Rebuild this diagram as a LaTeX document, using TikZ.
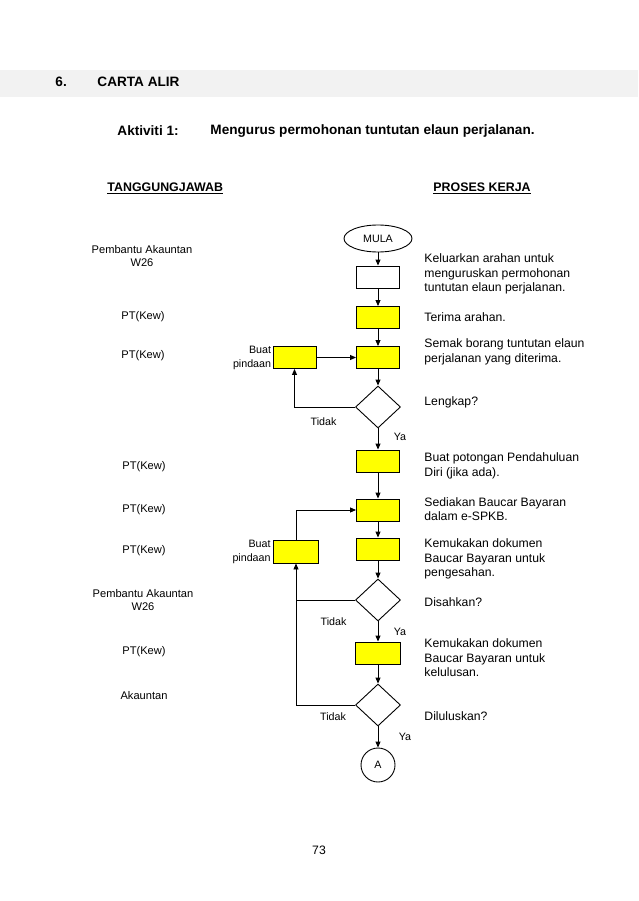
\documentclass[tikz,border=0pt]{standalone}
\usepackage{fontspec}
\setmainfont{Liberation Sans}
\usetikzlibrary{arrows.meta,positioning,shapes.geometric}
\definecolor{FlowYellow}{HTML}{FFFF00}
\definecolor{BarGrey}{HTML}{F2F2F2}
\tikzset{>={Triangle[length=6pt,width=5pt]},
 proc/.style={draw,fill=FlowYellow,minimum width=43pt,minimum height=22pt,inner sep=0pt},
 decide/.style={diamond,draw,minimum width=45pt,minimum height=42pt,inner sep=0pt},
 role/.style={font=\fontsize{11.1}{13}\selectfont,align=center},
 work/.style={anchor=west,align=left,inner sep=0pt,font=\fontsize{12.2}{14.4}\selectfont},
 tag/.style={font=\fontsize{10.7}{14}\selectfont,inner sep=1pt},
 head/.style={anchor=west,inner sep=0pt,font=\fontsize{13.6}{16}\selectfont\bfseries},
 colhead/.style={anchor=west,inner sep=0pt,font=\fontsize{12.4}{15}\selectfont\bfseries}}
\begin{document}
\begin{tikzpicture}[x=1pt,y=-1pt,line width=0.9pt]
\useasboundingbox (0,0) rectangle (638,901);
\fill[BarGrey] (0,70) rectangle (638,97);
\node[head] (num) at (55,82) {6.};
\node[head] (title) at (97,82) {CARTA ALIR};
\node[head] (akt) at (117,131) {Aktiviti 1:};
\node[head] (aktname) at (210,131) {Mengurus permohonan tuntutan elaun perjalanan.};
\node[colhead] (hleft) at (107,188) {\underline{TANGGUNGJAWAB}};
\node[colhead] (hright) at (433,188) {\underline{PROSES KERJA}};

\node[ellipse,draw,minimum width=68pt,minimum height=27pt,inner sep=0pt,tag] (mula) at (378,238.5) {MULA};
\node[proc,fill=white] (b1) at (378,277) {};
\node[proc] (b2) at (378,317.5) {};
\node[proc] (b3) at (378,357.5) {};
\node[proc] (p1) at (294.5,357.5) {};
\node[decide] (d1) at (378,407) {};
\node[proc] (b4) at (378,461) {};
\node[proc] (b5) at (378,510) {};
\node[proc] (b6) at (378,549) {};
\node[proc,minimum width=45pt,minimum height=23pt] (p2) at (296,551.5) {};
\node[decide] (d2) at (378,600) {};
\node[proc,minimum width=45pt] (b7) at (378,653) {};
\node[decide] (d3) at (378,705) {};
\node[circle,draw,minimum size=34pt,inner sep=0pt,tag] (endA) at (378,765) {A};

\node[tag,align=right,left=0pt of p1] (p1txt) {Buat\\pindaan};
\node[tag,align=right,left=1pt of p2] (p2txt) {Buat\\pindaan};
\node[tag] (no1) at (323.5,422) {Tidak};
\node[tag] (yes1) at (400,437) {Ya};
\node[tag] (no2) at (333.5,621.5) {Tidak};
\node[tag] (yes2) at (400,632) {Ya};
\node[tag] (no3) at (333,717) {Tidak};
\node[tag] (yes3) at (405,737) {Ya};

\draw[->] (mula) -- (b1);
\draw[->] (b1) -- (b2);
\draw[->] (b2) -- (b3);
\draw[->] (b3) -- (d1);
\draw[->] (d1) -- (b4);
\draw[->] (b4) -- (b5);
\draw[->] (b5) -- (b6);
\draw[->] (b6) -- (d2);
\draw[->] (d2) -- (b7);
\draw[->] (b7) -- (d3);
\draw[->] (d3) -- (endA);
\draw[->] (p1) -- (b3);
\draw[->] (d1.west) -| (p1.south);
\draw[->] (p2.north) |- (b5.west);
\draw[->] (d3.west) -| (p2.south);
\draw (d2.west) -- (d2.west -| p2.south);

\node[role] (r1) at (142,256) {Pembantu Akauntan\\W26};
\node[role] (r2) at (143,317) {PT(Kew)};
\node[role] (r3) at (143,356) {PT(Kew)};
\node[role] (r4) at (144,467) {PT(Kew)};
\node[role] (r5) at (144,510) {PT(Kew)};
\node[role] (r6) at (144,551) {PT(Kew)};
\node[role] (r7) at (143,600.5) {Pembantu Akauntan\\W26};
\node[role] (r8) at (144,652) {PT(Kew)};
\node[role] (r9) at (144,696) {Akauntan};

\node[work] (t1) at (424,274) {Keluarkan arahan untuk\\menguruskan permohonan\\tuntutan elaun perjalanan.};
\node[work] (t2) at (424,317) {Terima arahan.};
\node[work] (t3) at (424,352) {Semak borang tuntutan elaun\\perjalanan yang diterima.};
\node[work] (t4) at (424,402) {Lengkap?};
\node[work] (t5) at (424,466) {Buat potongan Pendahuluan\\Diri (jika ada).};
\node[work] (t6) at (424,509) {Sediakan Baucar Bayaran\\dalam e-SPKB.};
\node[work] (t7) at (424,559) {Kemukakan dokumen\\Baucar Bayaran untuk\\pengesahan.};
\node[work] (t8) at (424,602) {Disahkan?};
\node[work] (t9) at (424,658) {Kemukakan dokumen\\Baucar Bayaran untuk\\kelulusan.};
\node[work] (t10) at (424,716) {Diluluskan?};

\node[font=\fontsize{12.2}{14}\selectfont] (page) at (319,850) {73};
\end{tikzpicture}
\end{document}
